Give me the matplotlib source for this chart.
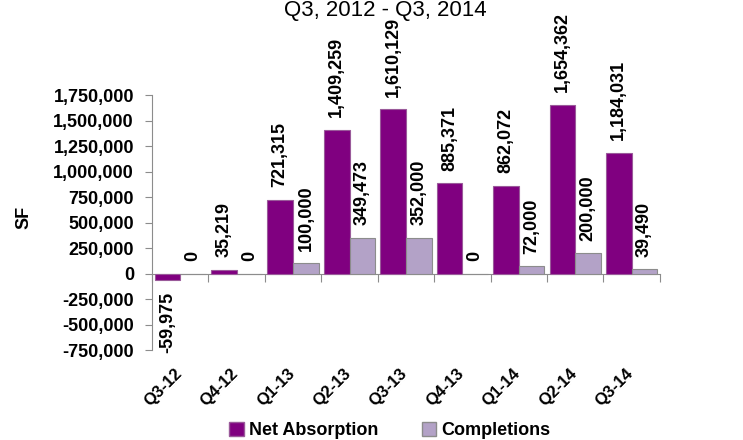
import numpy as np
import matplotlib
matplotlib.use("Agg")
import matplotlib.pyplot as plt
from matplotlib.ticker import FuncFormatter
from matplotlib.patches import Patch

quarters = ["Q3-12", "Q4-12", "Q1-13", "Q2-13", "Q3-13", "Q4-13", "Q1-14", "Q2-14", "Q3-14"]
net_absorption = [-59975, 35219, 721315, 1409259, 1610129, 885371, 862072, 1654362, 1184031]
completions = [0, 0, 100000, 349473, 352000, 0, 72000, 200000, 39490]

plt.rcParams['font.family'] = ['Liberation Sans', 'DejaVu Sans']
plt.rcParams['font.weight'] = 'bold'

net_color = "#800080"
comp_color = "#B3A2C7"
axis_gray = "#8C8C8C"

fig = plt.figure(figsize=(7.43, 4.40), dpi=100)
ax = fig.add_axes([0.2046, 0.2045, 0.6835, 0.5795])

x = np.arange(len(quarters))
w = 0.455
b1 = ax.bar(x - w/2, net_absorption, w, color=net_color, edgecolor="#9A5A9A", linewidth=0.8)
b2 = ax.bar(x + w/2, completions, w, color=comp_color, edgecolor=axis_gray, linewidth=0.8)

ymin, ymax = -750000, 1750000
ax.set_xlim(-0.5, len(quarters) - 0.5)
ax.set_ylim(ymin, ymax)
ax.set_yticks(np.arange(ymin, ymax + 1, 250000))
ax.yaxis.set_major_formatter(FuncFormatter(lambda v, p: "{:,.0f}".format(v)))
ax.tick_params(axis="y", length=5, color=axis_gray, labelsize=13, pad=8)

# data labels
for bars, vals in ((b1, net_absorption), (b2, completions)):
    for bar, v in zip(bars, vals):
        cx = bar.get_x() + bar.get_width() / 2
        if v < 0:
            ax.annotate("{:,}".format(v), (cx, v), xytext=(0, -9), textcoords="offset points",
                        rotation=90, ha="center", va="top", fontsize=13, fontweight="bold")
        else:
            ax.annotate("{:,}".format(v), (cx, v), xytext=(0, 9), textcoords="offset points",
                        rotation=90, ha="center", va="bottom", fontsize=13, fontweight="bold")

# category labels at the bottom, axis line at zero
ax.set_xticks(x + 0.08)
ax.set_xticklabels(quarters, rotation=45, ha="right", fontsize=12, fontweight="bold")
ax.tick_params(axis="x", length=0, pad=11)
for s in ("top", "right", "bottom"):
    ax.spines[s].set_visible(False)
ax.spines["left"].set_color(axis_gray)

zero_frac = (0 - ymin) / (ymax - ymin)
sec = ax.secondary_xaxis(zero_frac)
sec.set_xticks(np.arange(-0.5, len(quarters), 1.0))
sec.set_xticklabels([])
sec.tick_params(axis="x", direction="out", length=6, color=axis_gray)
sec.spines["bottom"].set_color(axis_gray)

ax.set_ylabel("SF", fontsize=13, fontweight="bold")
ax.yaxis.set_label_coords(-0.235, 0.52)

fig.text(0.518, 1 - 16/440, "Q3, 2012 - Q3, 2014", ha="center", va="baseline",
         fontsize=16, fontweight="normal")

handles = [Patch(facecolor=net_color, edgecolor="#9A5A9A"),
           Patch(facecolor=comp_color, edgecolor=axis_gray)]
fig.legend(handles, ["Net Absorption", "Completions"], loc="lower center",
           bbox_to_anchor=(0.525, -0.035), ncol=2, frameon=False,
           handlelength=0.8, handleheight=0.8, handletextpad=0.3, columnspacing=2.4,
           prop={"weight": "bold", "size": 13})

plt.savefig("out.png", dpi=100)
